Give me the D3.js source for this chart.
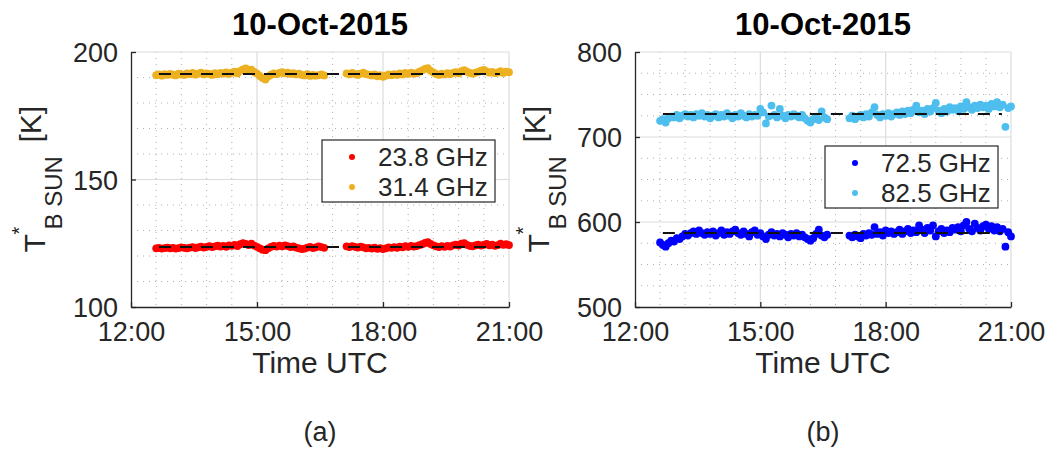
<!DOCTYPE html>
<html>
<head>
<meta charset="utf-8">
<script src="https://cdn.jsdelivr.net/npm/d3@7"></script>
<style>
  body { margin: 0; background: #fff; }
  text { font-family: 'Liberation Sans', Arial, Helvetica, sans-serif; fill: #262626; }
</style>
</head>
<body>
<svg id="fig" width="1062" height="453"></svg>
<script>
// Sample times in minutes after 12:00 UTC (two acquisition blocks)
const times = [
  36, 40, 44, 48, 52, 56, 60, 64, 68, 72, 76, 80, 84, 88, 92, 96, 100, 104, 108, 112,
  116, 120, 124, 128, 132, 136, 140, 144, 148, 152, 156, 160, 164, 168, 172, 176, 180, 184, 188, 192,
  196, 200, 204, 208, 212, 216, 220, 224, 228, 232, 236, 240, 244, 248, 252, 256, 260, 264, 268, 272, 276,
  308, 312, 316, 320, 324, 328, 332, 336, 340, 344, 348, 352, 356, 360, 364, 368, 372, 376, 380, 384,
  388, 392, 396, 400, 404, 408, 412, 416, 420, 424, 428, 432, 436, 440, 444, 448, 452, 456, 460, 464,
  468, 472, 476, 480, 484, 488, 492, 496, 500, 504, 508, 512, 516, 520, 524, 528, 532, 536, 540
];

// Sun brightness temperature T*_B [K] per channel
const tb238 = [
  123.0, 123.2, 122.9, 123.1, 123.3, 123.0, 123.2, 122.9, 123.1, 123.4, 123.2, 123.0,
  123.3, 123.5, 123.1, 123.4, 123.7, 123.3, 123.6, 123.9, 123.5, 123.8, 124.1, 123.7, 124.0, 123.6, 124.2,
  124.0, 124.4, 123.9, 124.6, 125.0, 124.7, 124.3, 124.8, 124.1, 123.6,
  123.0, 122.5, 122.3, 123.0, 123.6, 124.0, 123.7, 124.1, 123.8, 124.2,
  123.9, 123.5, 123.8, 123.3, 123.0, 122.7, 122.9, 123.3, 123.6, 123.1, 123.4, 123.8, 123.5, 123.2,
  123.8, 123.5, 123.9, 123.6, 123.3, 123.7, 123.4, 123.0, 123.2,
  122.9, 123.3, 122.8, 123.1, 122.7, 123.0, 123.4, 123.2,
  123.5, 123.2, 123.7, 123.4, 123.9, 123.6, 124.0, 123.7, 123.9, 124.3, 124.6, 125.1,
  125.4, 124.7, 124.2, 123.8, 123.5, 123.9, 123.6, 124.0, 123.7,
  124.2, 124.5, 124.1, 124.8, 125.0, 124.4, 124.0, 123.8, 124.2, 124.5, 124.1,
  124.4, 124.7, 124.2, 124.5, 124.0, 124.3, 124.8, 124.4, 124.6, 124.3
];
const tb314 = [
  190.9, 191.2, 190.7, 191.3, 191.0, 191.4, 191.1, 190.8, 191.5, 191.2, 191.0, 191.6,
  191.3, 191.8, 191.1, 191.5, 191.9, 191.2, 191.6, 191.4, 191.0, 191.7, 191.3, 191.8, 191.5, 192.0, 191.4,
  191.9, 192.3, 191.6, 192.6, 193.2, 193.6, 192.8, 193.1, 192.2, 191.5,
  190.6, 189.8, 189.2, 190.4, 191.1, 191.6, 191.3, 191.8, 192.1, 191.6,
  191.9, 191.4, 191.7, 191.2, 191.5, 191.0, 190.8, 191.3, 190.6, 191.0, 190.7, 190.9, 191.2, 190.8,
  191.6, 191.2, 191.8, 191.4, 191.0, 191.5, 191.9, 191.3, 191.1,
  190.8, 191.2, 190.5, 190.9, 190.3, 190.7, 191.2, 190.9,
  191.3, 191.0, 191.6, 191.2, 191.8, 191.4, 191.9, 191.5, 191.7, 192.3, 192.8, 193.4,
  193.7, 192.6, 192.0, 191.4, 191.0, 191.5, 191.2, 191.7, 191.3,
  191.8, 192.1, 191.6, 192.5, 192.9, 192.3, 191.8, 191.5, 191.9, 192.2, 192.7,
  193.0, 192.4, 191.9, 192.2, 191.7, 192.0, 192.5, 191.8, 192.3, 192.1
];
const tb725 = [
  576, 573, 571, 575, 578, 577, 581, 580, 583, 586, 584, 587,
  589, 586, 590, 587, 585, 588, 586, 589, 584, 587, 590, 585, 588, 586, 589,
  591, 587, 585, 589, 586, 583, 588, 590, 585, 587,
  583, 580, 585, 588, 584, 586, 583, 587, 585, 582,
  586, 584, 587, 583, 585, 582, 580, 578, 581, 586, 591, 584, 582, 585,
  584, 582, 585, 583, 581, 586, 584, 587, 585,
  594, 586, 588, 584, 590, 587, 589, 586,
  588, 591, 586, 589, 592, 587, 590, 588, 596, 591, 587, 593,
  590, 596, 583, 589, 592, 587, 590, 588, 593,
  591, 594, 589, 596, 600, 592, 589, 598, 593, 590, 595,
  597, 592, 595, 590, 594, 589, 592, 571, 588, 583
];
const tb825 = [
  719, 721, 717, 722, 724, 723, 726, 722, 725, 727, 724, 726,
  723, 727, 725, 728, 724, 726, 722, 725, 727, 723, 726, 724, 728, 725, 722,
  726, 724, 728, 725, 723, 727, 724, 726, 725, 733,
  729, 716, 724, 737, 726, 723, 733, 725, 722, 726,
  724, 727, 725, 723, 726, 722, 719, 717, 721, 724, 720, 730, 723, 721,
  722, 725, 721, 724, 726, 723, 727, 724, 729,
  735, 726, 723, 727, 725, 728, 724, 727,
  729, 726, 730, 727, 731, 728, 732, 737, 729, 731, 727, 733,
  730, 734, 740, 731, 728, 733, 730, 735, 732,
  734, 731, 736, 733, 741, 735, 732, 737, 734, 738, 735,
  737, 733, 739, 736, 741, 735, 738, 712, 734, 736
];

// Mean levels, drawn as dashed reference lines over this time span
const meanSpan = [40, 527];
const mean238 = 123.5, mean314 = 191.4, mean725 = 587, mean825 = 727;

// Axis ticks
const xTickValues = [0, 180, 360, 540];
const xTickLabels = ["12:00", "15:00", "18:00", "21:00"];
const yTicksA = [100, 150, 200];
const yTicksB = [500, 600, 700, 800];

const titleText = "10-Oct-2015";

const panels = [
  {
    left: 131, right: 509, top: 52, bottom: 307,
    yDomain: [100, 200], yTicks: yTicksA, yMinor: 10,
    series: [
      { name: "23.8 GHz", values: tb238, mean: mean238, color: "#ff0000" },
      { name: "31.4 GHz", values: tb314, mean: mean314, color: "#edb120" }
    ],
    legend: { x: 322, y: 140, w: 173, h: 62 },
    tag: "(a)"
  },
  {
    left: 635, right: 1011, top: 52, bottom: 307,
    yDomain: [500, 800], yTicks: yTicksB, yMinor: 25,
    series: [
      { name: "72.5 GHz", values: tb725, mean: mean725, color: "#0000ff" },
      { name: "82.5 GHz", values: tb825, mean: mean825, color: "#4dbeee" }
    ],
    legend: { x: 825, y: 146, w: 173, h: 62 },
    tag: "(b)"
  }
];

const svg = d3.select("#fig");

function drawPanel(p) {
  const g = svg.append("g");
  const x = d3.scaleLinear().domain([0, 540]).range([p.left, p.right]);
  const y = d3.scaleLinear().domain(p.yDomain).range([p.bottom, p.top]);

  // minor grid (dotted)
  const xMinor = d3.range(0, 541, 36).filter(v => !xTickValues.includes(v));
  const yMinor = d3.range(p.yDomain[0], p.yDomain[1] + 0.001, p.yMinor).filter(v => !p.yTicks.includes(v));
  const grid = g.append("g");
  grid.selectAll("line.xm").data(xMinor).join("line")
    .attr("x1", d => x(d)).attr("x2", d => x(d)).attr("y1", p.top).attr("y2", p.bottom)
    .attr("stroke", "#b0b0b0").attr("stroke-width", 1).attr("stroke-dasharray", "1,5");
  grid.selectAll("line.ym").data(yMinor).join("line")
    .attr("x1", p.left).attr("x2", p.right).attr("y1", d => y(d)).attr("y2", d => y(d))
    .attr("stroke", "#b0b0b0").attr("stroke-width", 1).attr("stroke-dasharray", "1,5");
  // major grid
  grid.selectAll("line.xM").data(xTickValues.slice(1)).join("line")
    .attr("x1", d => x(d)).attr("x2", d => x(d)).attr("y1", p.top).attr("y2", p.bottom)
    .attr("stroke", "#dcdcdc").attr("stroke-width", 1.2);
  grid.selectAll("line.yM").data(p.yTicks.slice(1)).join("line")
    .attr("x1", p.left).attr("x2", p.right).attr("y1", d => y(d)).attr("y2", d => y(d))
    .attr("stroke", "#dcdcdc").attr("stroke-width", 1.2);

  // data points
  p.series.forEach(s => {
    g.append("g").selectAll("circle").data(s.values).join("circle")
      .attr("cx", (d, i) => x(times[i])).attr("cy", d => y(d))
      .attr("r", 3.9).attr("fill", s.color);
  });
  // mean reference lines
  const line = d3.line().x(d => x(d[0])).y(d => y(d[1]));
  p.series.forEach(s => {
    g.append("path").datum(meanSpan.map(t => [t, s.mean]))
      .attr("d", line).attr("fill", "none").attr("stroke", "#111")
      .attr("stroke-width", 2).attr("stroke-dasharray", "12,9");
  });

  // axes
  const xAxis = d3.axisBottom(x).tickValues(xTickValues)
    .tickFormat((d, i) => xTickLabels[i]).tickSizeInner(-5).tickSizeOuter(0).tickPadding(14);
  const yAxis = d3.axisLeft(y).tickValues(p.yTicks).tickSizeInner(-5).tickSizeOuter(0).tickPadding(13);
  const gx = g.append("g").attr("transform", `translate(0,${p.bottom})`).call(xAxis);
  const gy = g.append("g").attr("transform", `translate(${p.left},0)`).call(yAxis);
  [gx, gy].forEach(a => {
    a.select(".domain").attr("stroke", "#262626").attr("stroke-width", 1.3);
    a.selectAll(".tick line").attr("stroke", "#262626").attr("stroke-width", 1.3);
    a.selectAll(".tick text").attr("fill", "#262626").attr("font-size", 27)
      .attr("font-family", "'Liberation Sans', Arial, sans-serif");
  });
  gx.selectAll(".tick text").attr("dy", "0.71em").attr("y", 15);
  gy.selectAll(".tick text").attr("dy", "0.36em");

  // title
  const cx = (p.left + p.right) / 2;
  g.append("text").attr("x", cx).attr("y", 35).attr("text-anchor", "middle")
    .attr("font-size", 31).attr("font-weight", "bold").style("fill", "#000").text(titleText);
  // x label
  g.append("text").attr("x", cx).attr("y", 373).attr("text-anchor", "middle")
    .attr("font-size", 30).text("Time UTC");
  // panel tag
  g.append("text").attr("x", cx).attr("y", 441).attr("text-anchor", "middle")
    .attr("font-size", 27).text(p.tag);

  // y label: T*_{B SUN} [K]
  const yc = (p.top + p.bottom) / 2;
  const lab = g.append("g").attr("transform", `translate(${p.left - 86},${yc}) rotate(-90)`);
  lab.append("text").attr("x", -73).attr("y", 0).attr("font-size", 30).text("T");
  lab.append("text").attr("x", -55).attr("y", -19).attr("font-size", 20).text("*");
  lab.append("text").attr("x", -50).attr("y", 17).attr("font-size", 24).text("B SUN");
  lab.append("text").attr("x", 37).attr("y", -4).attr("font-size", 30).text("[K]");

  // legend
  const L = p.legend;
  const lg = g.append("g");
  lg.append("rect").attr("x", L.x).attr("y", L.y).attr("width", L.w).attr("height", L.h)
    .attr("fill", "#fff").attr("stroke", "#262626").attr("stroke-width", 1.2);
  p.series.forEach((s, i) => {
    const ry = L.y + 17 + i * 30;
    lg.append("circle").attr("cx", L.x + 30).attr("cy", ry).attr("r", 3).attr("fill", s.color);
    lg.append("text").attr("x", L.x + 56).attr("y", ry + 9).attr("font-size", 26).text(s.name);
  });
}

panels.forEach(drawPanel);
</script>
</body>
</html>
